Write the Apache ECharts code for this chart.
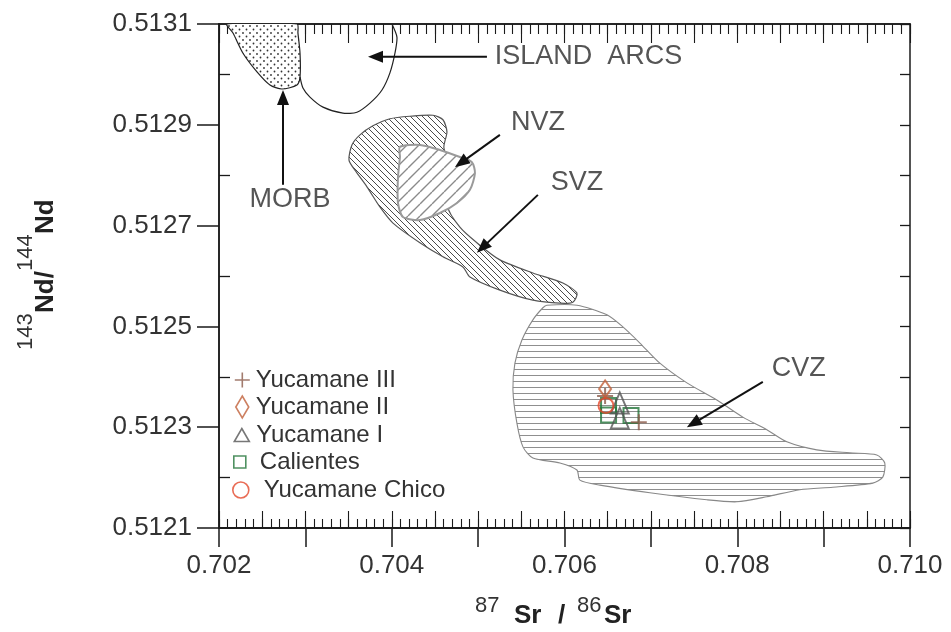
<!DOCTYPE html>
<html><head><meta charset="utf-8">
<script src="https://cdn.jsdelivr.net/npm/echarts@6.0.0/dist/echarts.min.js"></script>
<style>html,body{margin:0;padding:0;background:#fff}#chart{width:951px;height:632px}</style>
</head><body><div id="chart"></div>
<script>
// ---------- data ----------
const xTickLabels = [0.702, 0.704, 0.706, 0.708, 0.710];
const yTickLabels = [0.5121, 0.5123, 0.5125, 0.5127, 0.5129, 0.5131];
const yInnerTicks = [0.5122, 0.5124, 0.5126, 0.5128, 0.5130];
const seriesNames = ['Yucamane III', 'Yucamane II', 'Yucamane I', 'Calientes', 'Yucamane Chico'];

const yucamaneIII = [[0.70647, 0.512362], [0.70686, 0.512310]];
const yucamaneII = [[0.70647, 0.512376]];
const yucamaneI = [[0.70664, 0.512348], [0.70664, 0.512318]];
const calientes = [[0.70651, 0.512343], [0.70651, 0.512324], [0.70677, 0.512323]];
const yucamaneChico = [[0.70648, 0.512343]];

const morbOutline = [[0.702093,0.513100],[0.702162,0.513082],[0.702278,0.513042],[0.702440,0.513005],[0.702590,0.512979],[0.702729,0.512971],[0.702903,0.512979],[0.702938,0.512995],[0.702938,0.513042],[0.702914,0.513082],[0.702903,0.513100]];
const islandArcsOutline = [[0.702938,0.512995],[0.702972,0.512973],[0.703053,0.512955],[0.703204,0.512935],[0.703435,0.512923],[0.703597,0.512925],[0.703748,0.512943],[0.703887,0.512969],[0.703979,0.513003],[0.704037,0.513042],[0.704060,0.513074],[0.704002,0.513100]];
const svzOutline = [[0.703505,0.512830],[0.703539,0.512860],[0.703632,0.512880],[0.703782,0.512898],[0.703979,0.512912],[0.704211,0.512917],[0.704477,0.512919],[0.704593,0.512910],[0.704639,0.512886],[0.704604,0.512854],[0.704731,0.512790],[0.704650,0.512737],[0.704789,0.512697],[0.704986,0.512666],[0.705252,0.512632],[0.705634,0.512606],[0.705981,0.512586],[0.706144,0.512566],[0.706097,0.512548],[0.705947,0.512546],[0.705634,0.512552],[0.705252,0.512572],[0.704905,0.512598],[0.704824,0.512618],[0.704593,0.512638],[0.704326,0.512666],[0.704014,0.512705],[0.703863,0.512737],[0.703713,0.512777],[0.703574,0.512810]];
const nvzOutline = [[0.704095,0.512856],[0.704326,0.512860],[0.704558,0.512850],[0.704789,0.512836],[0.704928,0.512826],[0.704963,0.512804],[0.704905,0.512771],[0.704755,0.512745],[0.704558,0.512725],[0.704326,0.512711],[0.704130,0.512717],[0.704072,0.512745],[0.704072,0.512796],[0.704095,0.512836]];
const cvzOutline = [[0.705796,0.512542],[0.706144,0.512542],[0.706491,0.512523],[0.706676,0.512499],[0.706873,0.512467],[0.707104,0.512427],[0.707417,0.512388],[0.707764,0.512354],[0.708065,0.512320],[0.708343,0.512295],[0.708574,0.512271],[0.708921,0.512255],[0.709303,0.512249],[0.709616,0.512245],[0.709708,0.512229],[0.709685,0.512201],[0.709569,0.512189],[0.709106,0.512181],[0.708724,0.512176],[0.708343,0.512162],[0.707995,0.512152],[0.707648,0.512156],[0.706988,0.512170],[0.706410,0.512185],[0.706178,0.512195],[0.706144,0.512215],[0.705947,0.512229],[0.705634,0.512239],[0.705519,0.512261],[0.705449,0.512308],[0.705403,0.512374],[0.705426,0.512427],[0.705507,0.512473],[0.705634,0.512513],[0.705750,0.512537]];

// arrows: [tailX, tailY, headX, headY]
const arrowLines = [
  [0.702741, 0.512781, 0.702741, 0.512969],
  [0.705102, 0.513035, 0.703725, 0.513035],
  [0.705252, 0.512880, 0.704731, 0.512816],
  [0.705692, 0.512761, 0.704986, 0.512646],
  [0.708296, 0.512390, 0.707417, 0.512300]
];
const fieldLabels = ['ISLAND  ARCS', 'MORB', 'NVZ', 'SVZ', 'CVZ'];
const fieldLabelPos = [[0.706277, 0.513035], [0.702822, 0.512751], [0.705692, 0.512904], [0.706144, 0.512785], [0.708713, 0.512416]];

// ---------- styles ----------
function makePattern(size, draw) {
  const c = document.createElement('canvas');
  c.width = size; c.height = size;
  const ctx = c.getContext('2d');
  ctx.fillStyle = '#ffffff'; ctx.fillRect(0, 0, size, size);
  draw(ctx, size);
  return { image: c, repeat: 'repeat' };
}
const cvzFill = makePattern(6, (ctx, s) => { ctx.strokeStyle = '#8f8f8f'; ctx.lineWidth = 1; ctx.beginPath(); ctx.moveTo(0, 3.5); ctx.lineTo(s, 3.5); ctx.stroke(); });
const svzFill = makePattern(6, (ctx, s) => { ctx.strokeStyle = '#4a4a4a'; ctx.lineWidth = 1; ctx.beginPath(); for (const k of [-s, 0, s]) { ctx.moveTo(k, 0); ctx.lineTo(k + s, s); } ctx.stroke(); });
const nvzFill = makePattern(12, (ctx, s) => { ctx.strokeStyle = '#8a8a8a'; ctx.lineWidth = 1.4; ctx.beginPath(); for (const k of [-s, 0, s]) { ctx.moveTo(k, s); ctx.lineTo(k + s, 0); } ctx.stroke(); });
const morbFill = makePattern(7, (ctx, s) => { ctx.fillStyle = '#333'; ctx.beginPath(); ctx.arc(1.5, 1.5, 0.9, 0, Math.PI * 2); ctx.arc(5, 5, 0.9, 0, Math.PI * 2); ctx.fill(); });

function polySeries(name, pts, style, z, closed) {
  return {
    type: 'custom', name: name, coordinateSystem: 'cartesian2d', xAxisIndex: 0, yAxisIndex: 0,
    silent: true, z: z, clip: true, data: [pts[0]], encode: { x: 0, y: 1 },
    renderItem: function (params, api) {
      const points = pts.map(p => api.coord(p));
      return { type: closed ? 'polygon' : 'polyline', shape: { points: points, smooth: 0.25 }, style: style };
    }
  };
}

const axisColor = '#1a1a1a';
const txt = '#333333';
const FONT = 'Liberation Sans, Arial, Helvetica, sans-serif';
const hollow = (c) => ({ color: 'rgba(0,0,0,0)', borderColor: c, borderWidth: 2 });
const plusPath = 'path://M0,7L14,7M7,0L7,14';
const diamondPath = 'path://M5,0L10,8.5L5,17L0,8.5Z';
const colors = ['#8b5a4a', '#c0603a', '#555555', '#23763a', '#e4472b'];

const chart = echarts.init(document.getElementById('chart'), null, { renderer: 'canvas' });

function legendRow(i, icon, w, h, left, rowY, padLeft) {
  return {
    data: [{ name: seriesNames[i], icon: icon }], orient: 'vertical', left: left, top: rowY - 12,
    padding: 0, itemWidth: w, itemHeight: h, selectedMode: false,
    itemStyle: { color: 'rgba(0,0,0,0)', borderColor: colors[i], borderWidth: 1.6 },
    textStyle: { fontSize: 24, color: txt, fontFamily: FONT, padding: [0, 0, 0, padLeft] }
  };
}

function innerX(position, interval, len) {
  return { type: 'value', position: position, min: 0.702, max: 0.710, interval: interval,
    axisLine: { show: true, onZero: false, lineStyle: { color: axisColor, width: 1.5 } },
    axisTick: { show: true, inside: true, length: len, lineStyle: { color: axisColor, width: 1.1 } },
    axisLabel: { show: false }, splitLine: { show: false } };
}

const option = {
  animation: false,
  backgroundColor: '#ffffff',
  grid: { left: 219, right: 41, top: 24, bottom: 104, containLabel: false, outerBoundsMode: 'none' },
  xAxis: [
    { type: 'value', position: 'bottom', min: 0.702, max: 0.710, interval: 0.001,
      axisLine: { show: true, onZero: false, lineStyle: { color: axisColor, width: 1.5 } },
      axisTick: { show: true, inside: false, length: 19, lineStyle: { color: axisColor, width: 1.5 } },
      axisLabel: { show: true, margin: 25, fontSize: 26, color: txt, fontFamily: FONT,
        formatter: v => xTickLabels.some(t => Math.abs(t - v) < 1e-7) ? v.toFixed(3) : '' },
      splitLine: { show: false } },
    innerX('bottom', 0.0001, 9),
    innerX('bottom', 0.0005, 17),
    innerX('top', 0.0001, 10),
    innerX('top', 0.0005, 19)
  ],
  yAxis: [
    { type: 'value', position: 'left', min: 0.5121, max: 0.5131, interval: 0.0002,
      axisLine: { show: true, onZero: false, lineStyle: { color: axisColor, width: 1.5 } },
      axisTick: { show: true, inside: false, length: 22, lineStyle: { color: axisColor, width: 1.5 } },
      axisLabel: { show: true, margin: 27, fontSize: 26, color: txt, fontFamily: FONT,
        formatter: v => yTickLabels.some(t => Math.abs(t - v) < 1e-8) ? v.toFixed(4) : '' },
      splitLine: { show: false } },
    { type: 'value', position: 'left', min: 0.5121, max: 0.5131, interval: 0.0001,
      axisLine: { show: true, onZero: false, lineStyle: { color: axisColor, width: 1.5 } },
      axisTick: { show: true, inside: true, length: 11, customValues: yInnerTicks, lineStyle: { color: axisColor, width: 1.3 } },
      axisLabel: { show: false }, splitLine: { show: false } },
    { type: 'value', position: 'right', min: 0.5121, max: 0.5131, interval: 0.0001,
      axisLine: { show: true, onZero: false, lineStyle: { color: axisColor, width: 1.5 } },
      axisTick: { show: true, inside: true, length: 10, lineStyle: { color: axisColor, width: 1.3 } },
      axisLabel: { show: false }, splitLine: { show: false } }
  ],
  legend: [
    legendRow(0, plusPath, 15, 15, 234, 380, 1),
    legendRow(1, diamondPath, 13, 22, 235, 407, 2),
    legendRow(2, 'triangle', 15, 13, 233.5, 435, 2),
    legendRow(3, 'rect', 12, 12, 233, 462, 9),
    legendRow(4, 'circle', 16, 16, 232, 490, 10)
  ],
  graphic: [
    { type: 'text', x: 475, y: 606, style: { text: '87', fontSize: 22, fontFamily: FONT, fill: txt, align: 'left', verticalAlign: 'middle' } },
    { type: 'text', x: 514, y: 616, style: { text: 'Sr', fontSize: 26, fontWeight: 'bold', fontFamily: FONT, fill: '#222', align: 'left', verticalAlign: 'middle' } },
    { type: 'text', x: 558, y: 616, style: { text: '/', fontSize: 26, fontWeight: 'bold', fontFamily: FONT, fill: '#222', align: 'left', verticalAlign: 'middle' } },
    { type: 'text', x: 577, y: 606, style: { text: '86', fontSize: 22, fontFamily: FONT, fill: txt, align: 'left', verticalAlign: 'middle' } },
    { type: 'text', x: 604, y: 616, style: { text: 'Sr', fontSize: 26, fontWeight: 'bold', fontFamily: FONT, fill: '#222', align: 'left', verticalAlign: 'middle' } },
    { type: 'group', x: 46, y: 350, rotation: Math.PI / 2, children: [
      { type: 'text', x: 0, y: -20, style: { text: '143', fontSize: 22, fontFamily: FONT, fill: txt, align: 'left', verticalAlign: 'middle' } },
      { type: 'text', x: 37, y: 0, style: { text: 'Nd/', fontSize: 26, fontWeight: 'bold', fontFamily: FONT, fill: '#222', align: 'left', verticalAlign: 'middle' } },
      { type: 'text', x: 79, y: -20, style: { text: '144', fontSize: 22, fontFamily: FONT, fill: txt, align: 'left', verticalAlign: 'middle' } },
      { type: 'text', x: 116, y: 0, style: { text: 'Nd', fontSize: 26, fontWeight: 'bold', fontFamily: FONT, fill: '#222', align: 'left', verticalAlign: 'middle' } }
    ] }
  ],
  series: [
    polySeries('CVZ field', cvzOutline, { fill: cvzFill, stroke: '#888', lineWidth: 1.1 }, 2, true),
    polySeries('SVZ field', svzOutline, { fill: svzFill, stroke: '#555', lineWidth: 1.2 }, 3, true),
    polySeries('NVZ field', nvzOutline, { fill: nvzFill, stroke: '#9a9a9a', lineWidth: 2 }, 4, true),
    polySeries('MORB field', morbOutline, { fill: morbFill, stroke: '#222', lineWidth: 1.2 }, 3, true),
    polySeries('Island arcs field', islandArcsOutline, { fill: null, stroke: '#222', lineWidth: 1.2 }, 3, false),
    {
      type: 'custom', name: 'arrows', coordinateSystem: 'cartesian2d', silent: true, z: 6, clip: false,
      data: arrowLines, encode: { x: [0, 2], y: [1, 3] },
      renderItem: function (params, api) {
        const a = api.coord([api.value(0), api.value(1)]);
        const b = api.coord([api.value(2), api.value(3)]);
        const dx = b[0] - a[0], dy = b[1] - a[1];
        const L = Math.hypot(dx, dy) || 1;
        const ux = dx / L, uy = dy / L;
        const hl = 15, hw = 6;
        const bx = b[0] - ux * hl, by = b[1] - uy * hl;
        return { type: 'group', children: [
          { type: 'line', shape: { x1: a[0], y1: a[1], x2: bx + ux * 2, y2: by + uy * 2 }, style: { stroke: '#111', lineWidth: 2 } },
          { type: 'polygon', shape: { points: [[b[0], b[1]], [bx - uy * hw, by + ux * hw], [bx + uy * hw, by - ux * hw]] }, style: { fill: '#111' } }
        ] };
      }
    },
    {
      type: 'scatter', name: 'field labels', silent: true, z: 6, symbolSize: 1,
      itemStyle: { color: 'rgba(0,0,0,0)' },
      data: fieldLabelPos.map((p, i) => ({ name: fieldLabels[i], value: p })),
      label: { show: true, position: 'inside', formatter: '{b}', fontSize: 27, color: '#2b2b2b', fontFamily: FONT }
    },
    { type: 'scatter', name: seriesNames[3], data: calientes, symbol: 'rect', symbolSize: 15, itemStyle: hollow(colors[3]), z: 8 },
    { type: 'scatter', name: seriesNames[2], data: yucamaneI, symbol: 'triangle', symbolSize: [18, 21], itemStyle: hollow(colors[2]), z: 8 },
    { type: 'scatter', name: seriesNames[0], data: yucamaneIII, symbol: plusPath, symbolSize: 16, itemStyle: hollow(colors[0]), z: 8 },
    { type: 'scatter', name: seriesNames[1], data: yucamaneII, symbol: 'diamond', symbolSize: [12, 17], itemStyle: hollow(colors[1]), z: 8 },
    { type: 'scatter', name: seriesNames[4], data: yucamaneChico, symbol: 'circle', symbolSize: 15, itemStyle: hollow(colors[4]), z: 8 }
  ]
};
chart.setOption(option);
</script>
</body></html>
